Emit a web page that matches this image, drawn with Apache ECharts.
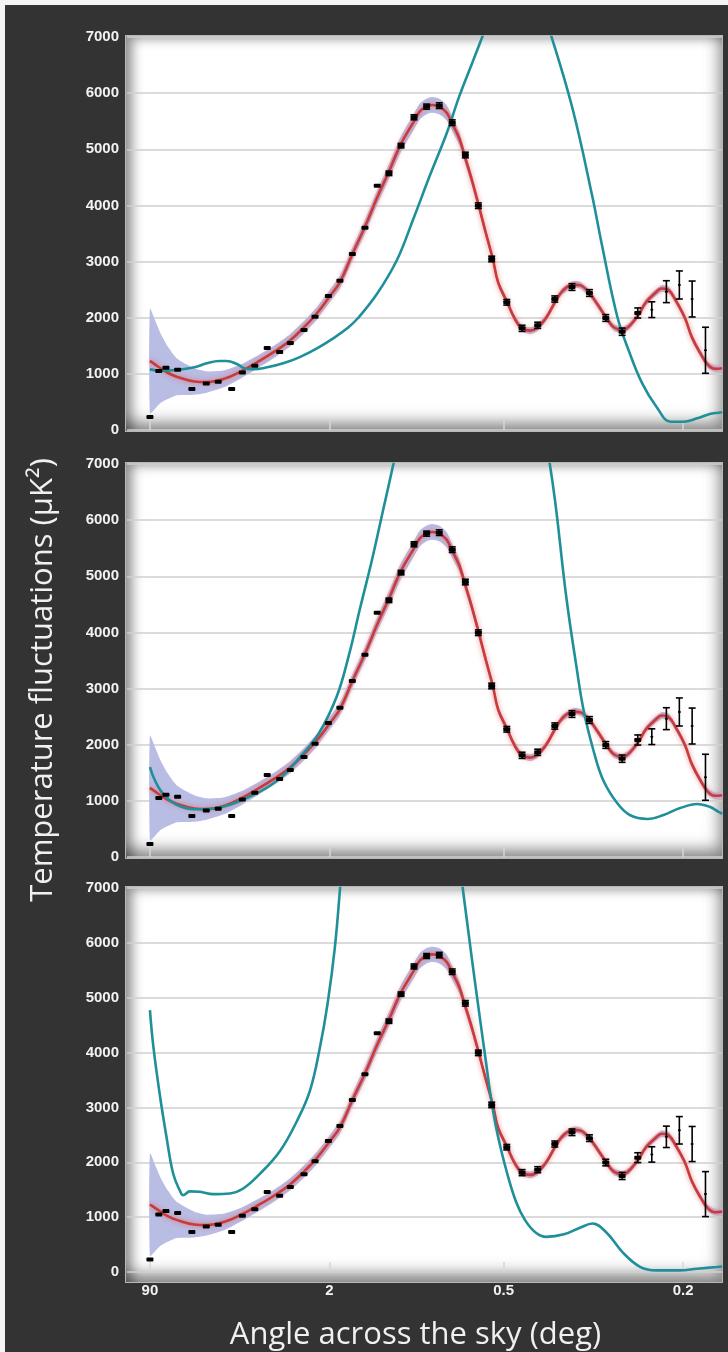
<!DOCTYPE html>
<html>
<head>
<meta charset="utf-8">
<script src="https://cdn.jsdelivr.net/npm/echarts@6/dist/echarts.min.js"></script>
<style>
  html, body { margin: 0; padding: 0; background: #f4f4f4; }
  #wrap { position: relative; width: 728px; height: 1352px; background: #f4f4f4; overflow: hidden; }
  #dark { position: absolute; left: 5px; top: 5px; right: 0; bottom: 0; background: #333; }
  .panel {
    position: absolute;
    background: #fff;
    border: 1px solid #b8b8b8;
    box-sizing: border-box;
    box-shadow: inset 12px 8px 12px -6px rgba(0,0,0,0.45), inset -10px -16px 16px -8px rgba(0,0,0,0.5);
  }
  #chart { position: absolute; left: 0; top: 0; width: 728px; height: 1352px; }
</style>
</head>
<body>
<div id="wrap">
  <div id="dark"></div>
  <div id="chart"></div>
</div>
<script>
// x axis: position along the angle axis (0 = 90 deg, 1 = 2 deg, 2 = 0.5 deg, 3 = 0.2 deg)
const tickPos = [0, 1.01, 1.99, 3.0]
const tickLabels = ['90', '2', '0.5', '0.2']

// best fit (red) curve
const fitPos = [0, 0.03, 0.06, 0.10, 0.15, 0.25, 0.32, 0.42, 0.51, 0.60, 0.70, 0.79, 0.87, 0.94, 1.01, 1.07, 1.14, 1.21, 1.28, 1.35, 1.41, 1.49, 1.52, 1.56, 1.59, 1.63, 1.67, 1.70, 1.74, 1.77, 1.81, 1.85, 1.89, 1.93, 1.96, 2.01, 2.05, 2.09, 2.14, 2.18, 2.23, 2.28, 2.32, 2.38, 2.42, 2.47, 2.52, 2.57, 2.61, 2.66, 2.70, 2.75, 2.79, 2.84, 2.88, 2.92, 2.96, 3.01, 3.05, 3.10, 3.14, 3.18, 3.22]
const fitTemp = [1230, 1165, 1100, 1020, 950, 865, 855, 915, 1040, 1200, 1395, 1600, 1840, 2080, 2375, 2640, 3140, 3620, 4150, 4640, 5080, 5520, 5680, 5770, 5790, 5760, 5650, 5460, 5200, 4890, 4470, 4000, 3510, 3040, 2620, 2280, 2000, 1820, 1770, 1820, 2000, 2280, 2470, 2590, 2580, 2450, 2230, 1990, 1830, 1780, 1860, 2060, 2270, 2430, 2520, 2490, 2300, 2000, 1650, 1350, 1160, 1090, 1100]
// half width of the shaded band around the fit
const bandHalf = [935, 780, 620, 470, 330, 235, 190, 150, 125, 115, 110, 110, 110, 110, 110, 115, 120, 125, 130, 135, 140, 140, 140, 140, 140, 140, 135, 130, 120, 110, 100, 90, 80, 75, 70, 65, 60, 60, 60, 60, 60, 60, 60, 60, 60, 60, 60, 60, 60, 60, 60, 60, 60, 60, 60, 60, 60, 60, 60, 60, 60, 60, 60]

// alternative models (teal), one per panel
const modelPos1 = [0, 0.06, 0.15, 0.25, 0.32, 0.39, 0.43, 0.49, 0.53, 0.58, 0.66, 0.75, 0.84, 0.94, 1.04, 1.11, 1.17, 1.28, 1.39, 1.48, 1.58, 1.67, 1.74, 1.82, 1.87, 1.94, 2.03, 2.11, 2.20, 2.26, 2.38, 2.49, 2.54, 2.63, 2.70, 2.77, 2.85, 2.93, 3.00, 3.08, 3.15, 3.20, 3.22]
const modelTemp1 = [1080, 1056, 1069, 1117, 1188, 1229, 1229, 1176, 1099, 1081, 1117, 1188, 1294, 1455, 1651, 1811, 1990, 2435, 3028, 3741, 4572, 5285, 5937, 6590, 7000, 7600, 8100, 8100, 7500, 7000, 5700, 4150, 3350, 2018, 1366, 831, 415, 148, 148, 208, 285, 308, 315]

const modelPos2 = [0, 0.03, 0.08, 0.15, 0.25, 0.35, 0.45, 0.55, 0.65, 0.75, 0.85, 0.95, 1.05, 1.12, 1.18, 1.25, 1.31, 1.37, 1.45, 1.55, 1.80, 2.00, 2.15, 2.25, 2.345, 2.40, 2.44, 2.495, 2.55, 2.63, 2.70, 2.80, 2.89, 2.98, 3.08, 3.15, 3.20, 3.22]
const modelTemp2 = [1600, 1350, 1100, 930, 850, 860, 930, 1060, 1220, 1450, 1800, 2200, 2850, 3600, 4400, 5300, 6150, 7000, 8200, 9500, 10800, 10200, 8400, 7000, 4577, 3390, 2618, 1906, 1372, 956, 748, 677, 748, 867, 944, 894, 805, 770]

const modelPos3 = [0, 0.019, 0.056, 0.094, 0.131, 0.169, 0.187, 0.225, 0.281, 0.356, 0.45, 0.525, 0.619, 0.732, 0.826, 0.90, 0.957, 1.00, 1.04, 1.07, 1.10, 1.18, 1.41, 1.63, 1.70, 1.76, 1.81, 1.86, 1.89, 1.92, 1.96, 2.01, 2.06, 2.11, 2.17, 2.23, 2.33, 2.42, 2.49, 2.57, 2.66, 2.76, 2.85, 2.98, 3.08, 3.19, 3.22]
const modelTemp3 = [4774, 4117, 3222, 2447, 1790, 1480, 1400, 1470, 1462, 1420, 1432, 1522, 1790, 2207, 2744, 3300, 4100, 4900, 5900, 7000, 8200, 11000, 13000, 10000, 8500, 7000, 5750, 4550, 3850, 3150, 2450, 1800, 1280, 950, 720, 640, 686, 806, 883, 716, 358, 90, 30, 30, 60, 90, 100]

// measured points with error bars
const obsPos = [0.00, 0.05, 0.09, 0.156, 0.236, 0.317, 0.384, 0.46, 0.52, 0.59, 0.66, 0.73, 0.79, 0.867, 0.929, 1.004, 1.069, 1.139, 1.21, 1.279, 1.345, 1.413, 1.486, 1.557, 1.628, 1.701, 1.775, 1.848, 1.923, 2.008, 2.094, 2.182, 2.278, 2.375, 2.473, 2.565, 2.657, 2.745, 2.824, 2.906, 2.979, 3.051, 3.126]
const obsTemp = [230, 1050, 1110, 1074, 730, 830, 860, 730, 1025, 1145, 1460, 1390, 1550, 1780, 2018, 2387, 2660, 3135, 3604, 4352, 4572, 5065, 5570, 5760, 5777, 5474, 4898, 3995, 3046, 2275, 1811, 1865, 2333, 2547, 2440, 1995, 1751, 2084, 2143, 2464, 2583, 2333, 1420]
const obsErr = [0, 0, 0, 0, 0, 0, 0, 0, 0, 0, 0, 0, 0, 0, 0, 0, 0, 0, 0, 0, 40, 40, 45, 45, 50, 50, 50, 50, 50, 50, 55, 55, 55, 60, 60, 60, 65, 90, 140, 195, 250, 320, 410]

const yTicks = [0, 1000, 2000, 3000, 4000, 5000, 6000, 7000]

// layout
const plotLeft = 127
const plotWidth = 595
const plotHeight = 393
const panelTops = [37, 464, 888]
const xMin = -0.129
const xMax = 3.219

const models = [
  [modelPos1, modelTemp1],
  [modelPos2, modelTemp2],
  [modelPos3, modelTemp3]
]

// panel backgrounds with the soft inner shadow
const wrap = document.getElementById('wrap')
panelTops.forEach((top) => {
  const d = document.createElement('div')
  d.className = 'panel'
  d.style.left = plotLeft - 2 + 'px'
  d.style.top = top - 2 + 'px'
  d.style.width = plotWidth + 3 + 'px'
  d.style.height = plotHeight + 4 + 'px'
  wrap.insertBefore(d, document.getElementById('chart'))
})

const chart = echarts.init(document.getElementById('chart'), null, { renderer: 'canvas' })

const fitLine = fitPos.map((p, i) => [p, fitTemp[i]])
const bandData = [0]
const obsData = obsPos.map((p, i) => [p, obsTemp[i], obsErr[i]])

const renderBand = (params, api) => {
  const upper = fitPos.map((p, i) => api.coord([p, fitTemp[i] + bandHalf[i]]))
  const lower = fitPos.map((p, i) => api.coord([p, fitTemp[i] - bandHalf[i]])).reverse()
  return {
    type: 'polygon',
    shape: { points: upper.concat(lower), smooth: 0.2 },
    style: { fill: '#b9bce3', stroke: null }
  }
}

const renderObs = (params, api) => {
  const x = api.value(0)
  const y = api.value(1)
  const e = api.value(2)
  const c = api.coord([x, y])
  const children = []
  if (e > 0) {
    const t = api.coord([x, y + e])
    const b = api.coord([x, y - e])
    const cap = 3.5
    const st = { stroke: '#000', lineWidth: 1.6 }
    children.push({ type: 'line', shape: { x1: c[0], y1: t[1], x2: c[0], y2: b[1] }, style: st })
    children.push({ type: 'line', shape: { x1: c[0] - cap, y1: t[1], x2: c[0] + cap, y2: t[1] }, style: st })
    children.push({ type: 'line', shape: { x1: c[0] - cap, y1: b[1], x2: c[0] + cap, y2: b[1] }, style: st })
  }
  const w = e > 100 ? 3 : 7
  const h = e > 100 ? 2 : 4
  children.push({
    type: 'rect',
    shape: { x: c[0] - w / 2, y: c[1] - h / 2, width: w, height: h, r: 1 },
    style: { fill: '#000' }
  })
  return { type: 'group', children }
}

const grid = []
const xAxis = []
const yAxis = []
const series = []

panelTops.forEach((top, k) => {
  grid.push({ left: plotLeft, top: top, width: plotWidth, height: plotHeight })
  xAxis.push({
    gridIndex: k,
    type: 'value',
    min: xMin,
    max: xMax,
    axisLine: { show: false },
    splitLine: { show: false },
    axisTick: {
      show: true,
      inside: true,
      length: 10,
      customValues: tickPos,
      lineStyle: { color: '#d6d6d6', width: 1.5 }
    },
    axisLabel: {
      show: k === 2,
      customValues: tickPos,
      margin: 11,
      color: '#f2f2f2',
      fontFamily: 'Liberation Sans, Arial, sans-serif',
      fontWeight: 'bold',
      fontSize: 15,
      formatter: (v) => {
        const i = tickPos.findIndex((t) => Math.abs(t - v) < 1e-6)
        return i >= 0 ? tickLabels[i] : ''
      }
    },
    name: k === 2 ? 'Angle across the sky (deg)' : '',
    nameLocation: 'middle',
    nameGap: 48,
    nameTextStyle: { color: '#f0f0f0', fontFamily: 'Open Sans', fontSize: 31, padding: [0, 18, 0, 0] }
  })
  yAxis.push({
    gridIndex: k,
    type: 'value',
    min: 0,
    max: 7000,
    interval: 1000,
    axisLine: { show: false },
    axisTick: { show: false },
    splitLine: { show: true, lineStyle: { color: '#cfcfcf', width: 1.5 } },
    axisLabel: {
      margin: 8,
      color: '#f2f2f2',
      fontFamily: 'Liberation Sans, Arial, sans-serif',
      fontWeight: 'bold',
      fontSize: 15,
      formatter: (v) => (yTicks.includes(v) ? String(v) : '')
    }
  })

  // shaded band
  series.push({
    type: 'custom',
    xAxisIndex: k,
    yAxisIndex: k,
    data: bandData,
    renderItem: renderBand,
    clip: true,
    silent: true,
    z: 1
  })
  // best fit
  series.push({
    type: 'line',
    xAxisIndex: k,
    yAxisIndex: k,
    data: fitLine,
    smooth: 0.4,
    symbol: 'none',
    lineStyle: { color: '#c83b3b', width: 2.6, shadowBlur: 5, shadowColor: 'rgba(235,95,95,0.8)' },
    z: 3
  })
  // model
  const m = models[k]
  series.push({
    type: 'line',
    xAxisIndex: k,
    yAxisIndex: k,
    data: m[0].map((p, i) => [p, m[1][i]]),
    smooth: 0.4,
    symbol: 'none',
    clip: true,
    lineStyle: { color: '#1f8f99', width: 2.6 },
    z: 4
  })
  // measurements
  series.push({
    type: 'custom',
    xAxisIndex: k,
    yAxisIndex: k,
    data: obsData,
    renderItem: renderObs,
    z: 5
  })
})

const option = {
  backgroundColor: 'transparent',
  animation: false,
  grid,
  xAxis,
  yAxis,
  series,
  graphic: [
    {
      type: 'text',
      rotation: Math.PI / 2,
      x: 43,
      y: 680,
      style: {
        text: 'Temperature fluctuations (μK²)',
        fill: '#f0f0f0',
        font: '31px "Open Sans"',
        textAlign: 'center',
        textVerticalAlign: 'middle'
      }
    }
  ]
}

chart.setOption(option)
</script>
</body>
</html>
